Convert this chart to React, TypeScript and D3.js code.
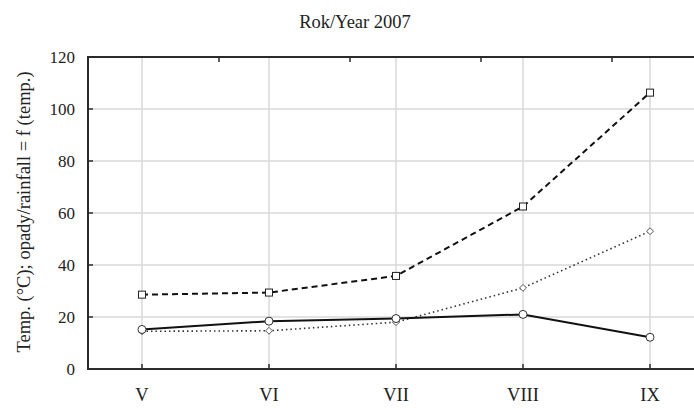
import * as d3 from "d3";
import { useEffect, useRef } from "react";

// Data
const months = ["V", "VI", "VII", "VIII", "IX"];
const rainfallDashed = [28.6, 29.4, 35.8, 62.5, 106.3];
const temperature = [15.2, 18.4, 19.4, 21.0, 12.2];
const rainfallFunc = [14.5, 14.7, 18.0, 31.2, 53.0];
const yTicks = [0, 20, 40, 60, 80, 100, 120];
const topTicks = [1, 2, 3, 4];

const WIDTH = 694;
const HEIGHT = 408;
const FONT = "'Liberation Serif', 'Times New Roman', serif";

const App = () => {
  const svgRef = useRef<SVGSVGElement>(null);

  useEffect(() => {
    const svg = d3.select(svgRef.current);
    svg.selectAll("*").remove();

    const margin = { top: 57, right: -10, bottom: 39, left: 88 };
    const left = margin.left;
    const right = WIDTH - margin.right;
    const top = margin.top;
    const bottom = HEIGHT - margin.bottom;

    const x = d3.scalePoint<string>().domain(months).range([left, right]).padding(0.425);
    const y = d3.scaleLinear().domain([0, 120]).range([bottom, top]);
    const xTop = d3.scaleLinear().domain([0, 5]).range([left, left + 5 * 131]);

    // grid
    const grid = svg.append("g").attr("stroke", "#d9d9d9").attr("stroke-width", 1.5);
    grid
      .selectAll("line.h")
      .data(yTicks.slice(1, -1))
      .join("line")
      .attr("x1", left)
      .attr("x2", right)
      .attr("y1", (d) => y(d))
      .attr("y2", (d) => y(d));
    grid
      .selectAll("line.v")
      .data(months)
      .join("line")
      .attr("x1", (d) => x(d)!)
      .attr("x2", (d) => x(d)!)
      .attr("y1", top)
      .attr("y2", bottom);

    // frame
    const axisColor = "#2b2b2b";
    svg
      .append("path")
      .attr("d", `M${right},${bottom}H${left}V${top}H${right}`)
      .attr("fill", "none")
      .attr("stroke", axisColor)
      .attr("stroke-width", 2);

    // inward ticks
    const ticks = svg.append("g").attr("stroke", axisColor).attr("stroke-width", 1.5);
    ticks
      .selectAll("line.yt")
      .data(yTicks.slice(1, -1))
      .join("line")
      .attr("x1", left)
      .attr("x2", left + 5)
      .attr("y1", (d) => y(d))
      .attr("y2", (d) => y(d));
    ticks
      .selectAll("line.xt")
      .data(months)
      .join("line")
      .attr("x1", (d) => x(d)!)
      .attr("x2", (d) => x(d)!)
      .attr("y1", bottom)
      .attr("y2", bottom - 5);
    ticks
      .selectAll("line.tt")
      .data(topTicks)
      .join("line")
      .attr("x1", (d) => xTop(d))
      .attr("x2", (d) => xTop(d))
      .attr("y1", top)
      .attr("y2", top + 5);

    // tick labels
    svg
      .append("g")
      .selectAll("text")
      .data(yTicks)
      .join("text")
      .attr("x", left - 13)
      .attr("y", (d) => y(d))
      .attr("dy", "0.35em")
      .attr("text-anchor", "end")
      .attr("font-family", FONT)
      .attr("font-size", 17)
      .attr("fill", "#222")
      .text((d) => d);
    svg
      .append("g")
      .selectAll("text")
      .data(months)
      .join("text")
      .attr("x", (d) => x(d)!)
      .attr("y", bottom + 32)
      .attr("text-anchor", "middle")
      .attr("font-family", FONT)
      .attr("font-size", 18.5)
      .attr("fill", "#222")
      .text((d) => d);

    // titles
    svg
      .append("text")
      .attr("x", 355)
      .attr("y", 28)
      .attr("text-anchor", "middle")
      .attr("font-family", FONT)
      .attr("font-size", 18.5)
      .attr("fill", "#222")
      .text("Rok/Year 2007");
    svg
      .append("text")
      .attr("transform", `translate(30,212) rotate(-90)`)
      .attr("text-anchor", "middle")
      .attr("font-family", FONT)
      .attr("font-size", 18.5)
      .attr("fill", "#222")
      .text("Temp. (°C); opady/rainfall = f (temp.)");

    const line = d3
      .line<number>()
      .x((_, i) => x(months[i])!)
      .y((d) => y(d));

    // dotted series with diamonds
    svg
      .append("path")
      .datum(rainfallFunc)
      .attr("fill", "none")
      .attr("stroke", "#333")
      .attr("stroke-width", 1.6)
      .attr("stroke-dasharray", "1.5,3")
      .attr("d", line);
    svg
      .append("g")
      .selectAll("path")
      .data(rainfallFunc)
      .join("path")
      .attr("d", d3.symbol(d3.symbolDiamond2, 30)())
      .attr("transform", (d, i) => `translate(${x(months[i])},${y(d)})`)
      .attr("fill", "white")
      .attr("stroke", "#555")
      .attr("stroke-width", 1);

    // solid series with circles
    svg
      .append("path")
      .datum(temperature)
      .attr("fill", "none")
      .attr("stroke", "#111")
      .attr("stroke-width", 2)
      .attr("d", line);
    svg
      .append("g")
      .selectAll("circle")
      .data(temperature)
      .join("circle")
      .attr("cx", (_, i) => x(months[i])!)
      .attr("cy", (d) => y(d))
      .attr("r", 4)
      .attr("fill", "white")
      .attr("stroke", "#333")
      .attr("stroke-width", 1);

    // dashed series with squares
    svg
      .append("path")
      .datum(rainfallDashed)
      .attr("fill", "none")
      .attr("stroke", "#111")
      .attr("stroke-width", 2)
      .attr("stroke-dasharray", "6,4")
      .attr("d", line);
    svg
      .append("g")
      .selectAll("rect")
      .data(rainfallDashed)
      .join("rect")
      .attr("x", (_, i) => x(months[i])! - 3.5)
      .attr("y", (d) => y(d) - 3.5)
      .attr("width", 7)
      .attr("height", 7)
      .attr("fill", "white")
      .attr("stroke", "#222")
      .attr("stroke-width", 1);
  }, []);

  return (
    <svg
      ref={svgRef}
      width={WIDTH}
      height={HEIGHT}
      style={{ position: "absolute", left: 0, top: 0, background: "white" }}
    />
  );
};

export default App;
